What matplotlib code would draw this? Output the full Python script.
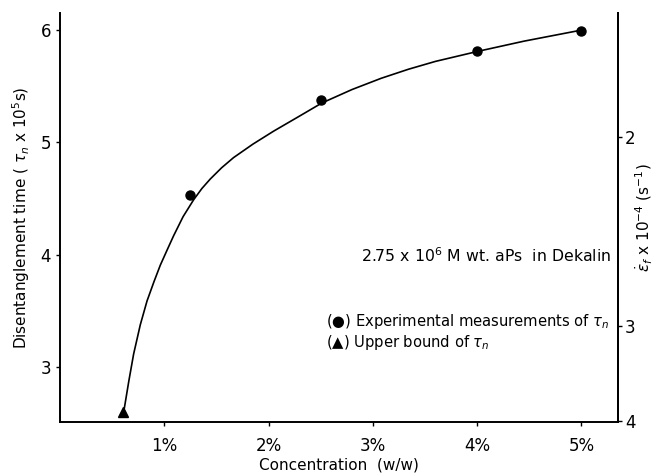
import matplotlib
matplotlib.use("Agg")
import matplotlib.pyplot as plt

# Measured points (concentration %, tau_n x 1e5 s)
meas_conc = [1.25, 2.5, 4.0, 5.0]
meas_tau = [4.53, 5.38, 5.81, 5.99]
# Upper bound
ub_conc = [0.6]
ub_tau = [2.6]
# Hand-drawn fitted curve
curve_conc = [0.61, 0.66, 0.706, 0.77, 0.834, 0.90, 0.962, 1.03, 1.089, 1.18, 1.281,
              1.36, 1.441, 1.55, 1.664, 1.85, 2.048, 2.28, 2.51, 2.80, 3.08, 3.34,
              3.60, 4.01, 4.45, 5.01]
curve_tau = [2.60, 2.88, 3.12, 3.38, 3.59, 3.76, 3.91, 4.05, 4.17, 4.34, 4.49,
             4.59, 4.675, 4.775, 4.865, 4.985, 5.10, 5.225, 5.35, 5.47, 5.57, 5.65,
             5.72, 5.81, 5.90, 6.00]

x_ticks = [1, 2, 3, 4, 5]
x_labels = ["1%", "2%", "3%", "4%", "5%"]
left_ticks = [3, 4, 5, 6]
right_ticks = [2, 3, 4]
K = 10.1  # strain rate (x1e-4 s^-1) = K / tau

plt.rcParams['font.family'] = ['DejaVu Sans']
fig = plt.figure(figsize=(6.64, 4.76), dpi=100)
ax = fig.add_axes([60/664, 1 - 421.5/476, (618-60)/664, (421.5-13)/476])

ax.plot(curve_conc, curve_tau, color='black', lw=1.2)
ax.plot(meas_conc, meas_tau, 'o', color='black', ms=6.5)
ax.plot(ub_conc, ub_tau, '^', color='black', ms=7.5, clip_on=False)

ax.set_xlim(0, 5.35)
ax.set_ylim(2.52, 6.15)
ax.set_xticks(x_ticks)
ax.set_xticklabels(x_labels)
ax.set_yticks(left_ticks)
ax.spines['top'].set_visible(False)
for s in ['left', 'right', 'bottom']:
    ax.spines[s].set_linewidth(1.4)
ax.tick_params(direction='out', length=3, width=1, labelsize=12)
ax.tick_params(axis='x', pad=8)

ax.set_xlabel("Concentration  (w/w)", fontsize=11, labelpad=2)
ax.set_ylabel(r"Disentanglement time ( $\tau_n$ x 10$^5$s)", fontsize=11, labelpad=6)

sec = ax.secondary_yaxis('right', functions=(lambda t: K / t, lambda e: K / e))
sec.set_yticks(right_ticks)
sec.tick_params(direction='out', length=3, width=1, labelsize=12, pad=2)
sec.spines['right'].set_linewidth(1.4)
sec.set_ylabel(r"$\dot{\epsilon}_f$ x 10$^{-4}$ (s$^{-1}$)", fontsize=11, labelpad=-1)

ax.text(5.28, 3.99, r"2.75 x 10$^6$ M wt. aPs  in Dekalin", ha='right', va='center', fontsize=11.3)
ax.text(2.55, 3.41, "(\u25CF) Experimental measurements of $\\tau_n$", ha='left', va='center', fontsize=10.6)
ax.text(2.55, 3.22, "(\u25B2) Upper bound of $\\tau_n$", ha='left', va='center', fontsize=10.6)

fig.savefig("out.png", dpi=100)
